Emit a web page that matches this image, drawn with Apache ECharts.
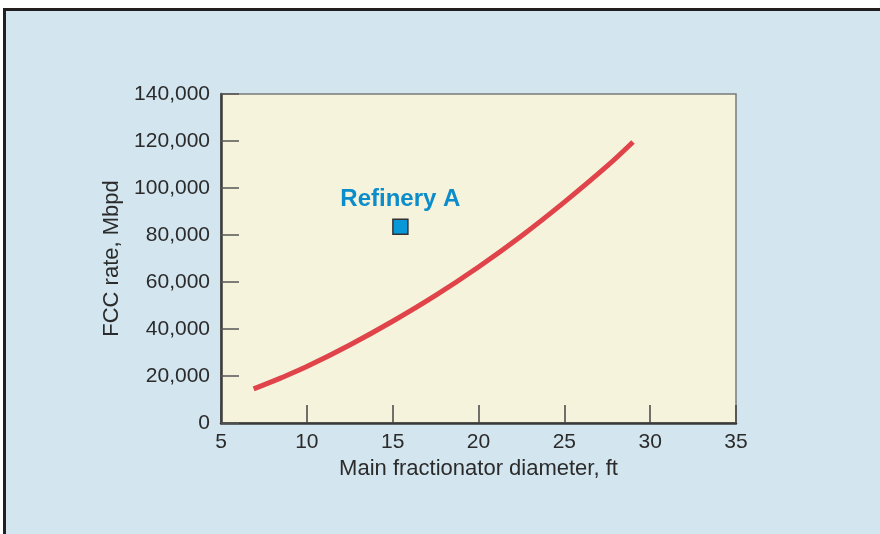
<!DOCTYPE html>
<html>
<head>
<meta charset="utf-8">
<script src="https://cdn.jsdelivr.net/npm/echarts@6/dist/echarts.min.js"></script>
<style>
html,body{margin:0;padding:0;background:#ffffff;}
#frame{position:absolute;left:3px;top:8px;width:877px;height:526px;box-sizing:border-box;border-left:3px solid #231f20;border-top:3px solid #231f20;background:#d3e5ee;}
#chart{position:absolute;left:0;top:0;width:880px;height:534px;}
</style>
</head>
<body>
<div id="frame"></div>
<div id="chart"></div>
<script>
// Data
var curveX = [6.9, 8.5, 10, 12.5, 15, 17.5, 20, 22.5, 25, 27.5, 29];
var curveY = [14500, 19200, 24000, 33200, 43300, 54300, 66400, 79600, 94000, 109400, 119600];
var refineryX = [15.45];
var refineryY = [83500];
var refineryNames = ['Refinery A'];
var xTicks = [5, 10, 15, 20, 25, 30, 35];
var yTicks = [0, 20000, 40000, 60000, 80000, 100000, 120000, 140000];

var font = '"Liberation Sans", Arial, Helvetica, sans-serif';
var textColor = '#2b2b2b';

var chart = echarts.init(document.getElementById('chart'), null, {renderer: 'canvas'});
chart.setOption({
  backgroundColor: 'transparent',
  animation: false,
  grid: {
    left: 221, right: 144, top: 94, bottom: 111,
    show: true, backgroundColor: '#f5f3dc', borderColor: '#7a7a7a', borderWidth: 1.5
  },
  xAxis: {
    type: 'value',
    min: xTicks[0], max: xTicks[xTicks.length - 1], interval: 5,
    name: 'Main fractionator diameter, ft',
    nameLocation: 'middle', nameGap: 35,
    nameTextStyle: {fontFamily: font, fontSize: 22, color: textColor},
    axisLine: {show: true, lineStyle: {color: '#3a3a3a', width: 2.5}},
    axisTick: {show: true, inside: true, length: 18, lineStyle: {color: '#444', width: 1.5}},
    axisLabel: {fontFamily: font, fontSize: 21, color: textColor, margin: 9},
    splitLine: {show: false}
  },
  yAxis: {
    type: 'value',
    min: yTicks[0], max: yTicks[yTicks.length - 1], interval: 20000,
    name: 'FCC rate, Mbpd',
    nameLocation: 'middle', nameGap: 95,
    nameTextStyle: {fontFamily: font, fontSize: 22, color: textColor},
    axisLine: {show: true, lineStyle: {color: '#3a3a3a', width: 2.5}},
    axisTick: {show: true, inside: true, length: 18, lineStyle: {color: '#555', width: 1.5}},
    axisLabel: {
      fontFamily: font, fontSize: 21, color: textColor, margin: 11,
      formatter: function (v) { return v.toLocaleString('en-US'); }
    },
    splitLine: {show: false}
  },
  series: [
    {
      type: 'line',
      data: curveX.map(function (x, i) { return [x, curveY[i]]; }),
      smooth: 0.35,
      showSymbol: false,
      lineStyle: {color: '#e0444a', width: 5, cap: 'butt'}
    },
    {
      type: 'scatter',
      data: refineryX.map(function (x, i) { return {value: [x, refineryY[i]], name: refineryNames[i]}; }),
      symbol: 'rect',
      symbolSize: 15,
      itemStyle: {color: '#0898d8', borderColor: '#333', borderWidth: 1.5, opacity: 1},
      label: {
        show: true, position: 'top', distance: 7,
        formatter: function (p) { return p.name; },
        fontFamily: font, fontSize: 24, fontWeight: 'bold', color: '#0b8ccb'
      }
    }
  ]
});
</script>
</body>
</html>
